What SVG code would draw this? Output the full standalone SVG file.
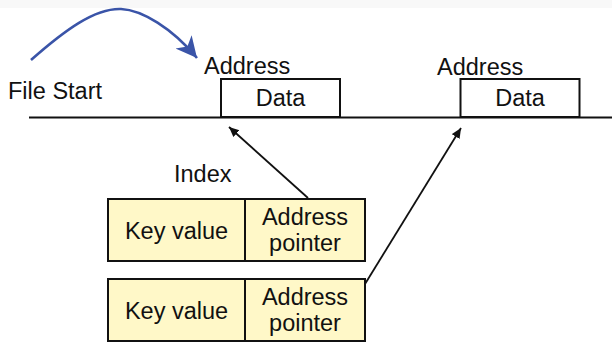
<svg xmlns="http://www.w3.org/2000/svg" width="612" height="343" viewBox="0 0 612 343">
  <defs>
    <style>
      text { font-family: "Liberation Sans", Arial, sans-serif; font-size: 23.5px; fill: #111; }
      .mid { text-anchor: middle; }
      .box { fill: #ffffff; stroke: #111; stroke-width: 2; }
      .rec { fill: #fff8c8; stroke: #111; stroke-width: 2; }
      .ptr { fill: none; stroke: #111; stroke-width: 1.8; marker-end: url(#tip); }
      .jump { fill: none; stroke: #3a54a8; stroke-width: 2.6; marker-end: url(#bigtip); }
    </style>
    <marker id="tip" markerUnits="userSpaceOnUse" markerWidth="12" markerHeight="10" refX="10" refY="4.5" orient="auto">
      <path d="M0,0 L10,4.5 L0,9 z" fill="#111"/>
    </marker>
    <marker id="bigtip" markerUnits="userSpaceOnUse" markerWidth="24" markerHeight="24" refX="21" refY="10.5" orient="auto">
      <path d="M0,0 L21,10.5 L0,21 L6,10.5 z" fill="#3a54a8"/>
    </marker>
  </defs>

  <rect x="0" y="0" width="612" height="343" fill="#ffffff"/>
  <rect x="0" y="0" width="612" height="8" fill="#f8f8f8"/>

  <!-- file body: the baseline of the stored records -->
  <line x1="29" y1="117.5" x2="612" y2="117.5" stroke="#111" stroke-width="2"/>
  <text x="8" y="99">File Start</text>

  <g id="record1">
    <text x="204" y="74">Address</text>
    <rect class="box" x="221" y="79" width="119" height="38"/>
    <text class="mid" x="280.5" y="106">Data</text>
  </g>

  <g id="record2">
    <text x="437" y="75">Address</text>
    <rect class="box" x="460.5" y="79" width="119" height="38"/>
    <text class="mid" x="520" y="106">Data</text>
  </g>

  <g id="index">
    <text x="174" y="182">Index</text>
  </g>

  <g id="entry1">
    <rect class="rec" x="108" y="199" width="137" height="62"/>
    <rect class="rec" x="245" y="199" width="120" height="62"/>
    <text class="mid" x="176.5" y="238.5">Key value</text>
    <text class="mid" x="305" y="224.5">Address</text>
    <text class="mid" x="305" y="250.5">pointer</text>
  </g>

  <g id="entry2">
    <rect class="rec" x="108" y="279" width="137" height="62"/>
    <rect class="rec" x="245" y="279" width="120" height="62"/>
    <text class="mid" x="176.5" y="318.5">Key value</text>
    <text class="mid" x="305" y="304.5">Address</text>
    <text class="mid" x="305" y="330.5">pointer</text>
  </g>

  <g id="connectors">
    <path class="jump" d="M31,60 C65,30 95,8 121,9 C142,10 172,28 197,58"/>
    <line class="ptr" x1="308" y1="198" x2="229" y2="127"/>
    <line class="ptr" x1="365" y1="284" x2="461" y2="128"/>
  </g>
</svg>
